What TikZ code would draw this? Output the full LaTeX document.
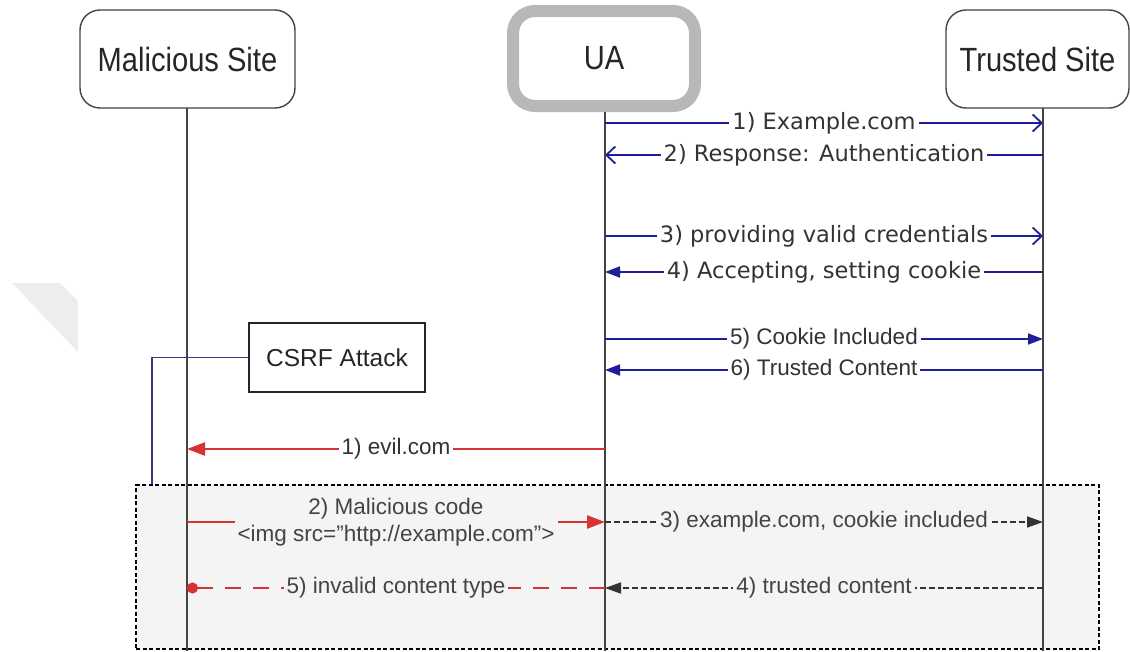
\documentclass[tikz,border=0pt]{standalone}
\usepackage{graphicx}
\usepackage{fontspec}
\setmainfont{Liberation Sans}
\newfontfamily\dejavu{DejaVu Sans}
\usetikzlibrary{arrows.meta}
\definecolor{navy}{HTML}{1E1E96}
\definecolor{redm}{HTML}{D63434}
\definecolor{redmuted}{HTML}{C85050}
\definecolor{txt}{HTML}{333333}
\definecolor{ltxt}{HTML}{444444}
\definecolor{regfill}{HTML}{F4F4F4}
\definecolor{uagrey}{HTML}{B8B8B8}
\definecolor{lifec}{HTML}{444444}
\definecolor{csrfc}{HTML}{3A3A80}
\definecolor{greyarrow}{HTML}{333333}
\definecolor{wmark}{HTML}{EDEDED}
\newcommand{\tall}[1]{\scalebox{0.97}[1.12]{#1}}
\begin{document}
\begin{tikzpicture}[x=1pt,y=-1pt,
  actor/.style={draw=lifec, line width=1.4pt, rounded corners=20pt, fill=white,
    font=\fontsize{30}{36}\selectfont, text=black!85, inner sep=0pt},
  uabox/.style={draw=uagrey, line width=12pt, rounded corners=22pt, fill=white,
    font=\fontsize{30}{36}\selectfont, text=black!85, inner sep=0pt},
  lifeline/.style={draw=lifec, line width=1.3pt},
  bluemsg/.style={draw=navy, line width=1.8pt},
  openhead/.style={-{Straight Barb[length=9pt,width=17pt]}},
  bluehead/.style={-{Triangle[length=15pt,width=11pt]}},
  redmsg/.style={draw=redm, line width=2.4pt, -{Triangle[length=18pt,width=13pt]}},
  redmsgb/.style={draw=redmuted, line width=2.4pt, -{Triangle[length=18pt,width=13pt]}, redm},
  greymsg/.style={draw=greyarrow, line width=1.7pt, dash pattern=on 6pt off 3pt,
    -{Triangle[length=16pt,width=11pt]}},
  reddash/.style={draw=redm, line width=2pt, dash pattern=on 16pt off 12pt,
    -{Circle[length=11pt]}},
  ulbl/.style={font=\dejavu\fontsize{22.5}{27}\selectfont, text=txt, fill=white,
    inner xsep=3pt, inner ysep=1pt},
  llbl/.style={font=\fontsize{22.5}{27}\selectfont, text=ltxt, fill=regfill,
    inner xsep=3pt, inner ysep=1pt},
  wlbl/.style={font=\fontsize{22.5}{27}\selectfont, text=txt, fill=white,
    inner xsep=3pt, inner ysep=1pt},
  regionbox/.style={draw=black, line width=2pt, dash pattern=on 4pt off 2.5pt, fill=regfill},
  csrfbox/.style={draw=black!85, line width=1.4pt, fill=white,
    font=\fontsize{24.5}{29}\selectfont, text=black!85},
  csrfline/.style={draw=csrfc, line width=1.5pt}
]
\useasboundingbox (0,0) rectangle (1130,651);

% faint watermark
\fill[wmark] (12,283) -- (60,283) -- (78,301) -- (78,352) -- cycle;

% region of the attack
\node[regionbox, anchor=north west, minimum width=963pt, minimum height=164pt] (region) at (135,484) {};

% actors
\node[actor, minimum width=215pt, minimum height=98pt] (ms) at (187.5,59) {\tall{Malicious Site}};
\node[uabox, minimum width=182pt, minimum height=95pt] (ua) at (604,58.5) {\tall{UA}};
\node[actor, minimum width=183pt, minimum height=98pt] (ts) at (1037.5,59) {\tall{Trusted Site}};

% lifeline ends
\coordinate (msB) at (187,651);
\coordinate (uaB) at (605,651);
\coordinate (tsB) at (1043,651);
\coordinate (msT) at (187,108);
\coordinate (uaT) at (605,112);
\coordinate (tsT) at (1043,108);
\draw[lifeline] (msT) -- (msB);
\draw[lifeline] (uaT) -- (uaB);
\draw[lifeline] (tsT) -- (tsB);

% CSRF attack note
\node[csrfbox, minimum width=176pt, minimum height=69pt] (csrf) at (337,357.5) {CSRF Attack};
\coordinate (csrfend) at (152,484);
\draw[csrfline] (csrf.west) -| (csrfend);

% legitimate messages
\draw[bluemsg, openhead] (uaB |- 0,123) -- (tsB |- 0,123) node[ulbl, midway] {1) Example.com};
\draw[bluemsg, openhead] (tsB |- 0,155) -- (uaB |- 0,155) node[ulbl, midway] {2) Response: Authentication};
\draw[bluemsg, openhead] (uaB |- 0,236) -- (tsB |- 0,236) node[ulbl, midway] {3) providing valid credentials};
\draw[bluemsg, bluehead] (tsB |- 0,272) -- (uaB |- 0,272) node[ulbl, midway] {4) Accepting, setting cookie};
\draw[bluemsg, bluehead] (uaB |- 0,339) -- (tsB |- 0,339) node[wlbl, midway] {5) Cookie Included};
\draw[bluemsg, bluehead] (tsB |- 0,370) -- (uaB |- 0,370) node[wlbl, midway] {6) Trusted Content};

% attack messages
\draw[redmsg] (uaB |- 0,449) -- (msB |- 0,449) node[wlbl, midway] {1) evil.com};
\draw[redmsgb] (msB |- 0,522) -- (uaB |- 0,522) node[llbl, midway, align=center] {2) Malicious code\\<img src=\symbol{34}http://example.com\symbol{34}>};
\draw[greymsg] (uaB |- 0,522) -- (tsB |- 0,522) node[llbl, midway] {3) example.com, cookie included};
\draw[reddash] (uaB |- 0,588) -- (msB |- 0,588) node[llbl, midway] {5) invalid content type};
\draw[greymsg] (tsB |- 0,588) -- (uaB |- 0,588) node[llbl, midway] {4) trusted content};
\end{tikzpicture}
\end{document}
